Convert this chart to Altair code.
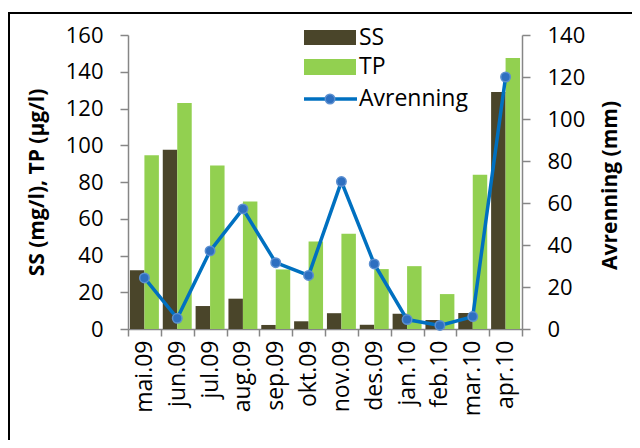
import altair as alt
import pandas as pd

months = ["mai.09", "jun.09", "jul.09", "aug.09", "sep.09", "okt.09",
          "nov.09", "des.09", "jan.10", "feb.10", "mar.10", "apr.10"]
ss = [32, 97.5, 12.5, 16.5, 2.2, 4.2, 8.6, 2.3, 8.3, 4.9, 8.7, 129]
tp = [94.5, 123, 89, 69.4, 32.4, 47.6, 51.8, 32.6, 34.2, 19, 84, 147.5]
avr = [24.3, 5.1, 37.2, 57.2, 31.6, 25.5, 70.2, 31, 4.5, 1.7, 5.9, 120]
series = ["SS", "TP", "Avrenning"]
colors = ["#4a452a", "#92d050", "#0070c0"]
left_ticks = [0, 20, 40, 60, 80, 100, 120, 140, 160]
right_ticks = [0, 20, 40, 60, 80, 100, 120, 140]
left_title = "SS (mg/l), TP (µg/l)"
right_title = "Avrenning (mm)"

FONT = "Open Sans"
AXC = "#868686"

long_df = pd.DataFrame(
    [{"Måned": m, "Serie": "SS", "Verdi": v} for m, v in zip(months, ss)]
    + [{"Måned": m, "Serie": "TP", "Verdi": v} for m, v in zip(months, tp)]
)
line_df = pd.DataFrame({"Måned": months, "Avrenning": avr})

x_axis = alt.Axis(title=None, labelAngle=-90, tickBand="extent", tickSize=7,
                  labelPadding=4, domainColor=AXC, tickColor=AXC,
                  labelFontSize=23, labelColor="black")
x_enc = alt.X("Måned:N", sort=months,
              scale=alt.Scale(paddingInner=0, paddingOuter=0), axis=x_axis)

bars = alt.Chart(long_df).mark_bar().encode(
    x=x_enc,
    xOffset=alt.XOffset("Serie:N", sort=["SS", "TP"],
                        scale=alt.Scale(paddingInner=0, paddingOuter=0.134)),
    y=alt.Y("Verdi:Q", scale=alt.Scale(domain=[0, 160]),
            axis=alt.Axis(orient="left", values=left_ticks, grid=False,
                          title=left_title, tickSize=8, labelPadding=17,
                          labelFontSize=22,
                          titleAngle=270, titleX=-91, titleY=147,
                          titleAlign="center", titleBaseline="middle")),
    color=alt.Color("Serie:N", scale=alt.Scale(domain=series[:2], range=colors[:2]),
                    legend=None),
)

line = alt.Chart(line_df).mark_line(
    color=colors[2], strokeWidth=3.5,
    point=alt.OverlayMarkDef(filled=True, fill="#2e6fc0", stroke="#5b8fd0",
                             strokeWidth=1.5, size=90, opacity=1),
).encode(
    x=x_enc,
    y=alt.Y("Avrenning:Q", scale=alt.Scale(domain=[0, 140]),
            axis=alt.Axis(orient="right", values=right_ticks, grid=False,
                          title=right_title, tickSize=8, labelPadding=17,
                          labelFontSize=22,
                          titleAngle=270, titleX=88, titleY=150,
                          titleAlign="center", titleBaseline="middle")),
)

one = pd.DataFrame({"k": [0]})
leg_ss = alt.Chart(one).mark_rect(color=colors[0]).encode(
    x=alt.value(176), x2=alt.value(228), y=alt.value(-5), y2=alt.value(10))
leg_tp = alt.Chart(one).mark_rect(color=colors[1]).encode(
    x=alt.value(176), x2=alt.value(228), y=alt.value(24), y2=alt.value(40))
leg_line = alt.Chart(one).mark_rule(color=colors[2], strokeWidth=3.5).encode(
    x=alt.value(176), x2=alt.value(229), y=alt.value(64))
leg_pt = alt.Chart(one).mark_point(filled=True, fill="#2e6fc0", stroke="#5b8fd0",
                                   strokeWidth=1.5, size=90, opacity=1).encode(
    x=alt.value(202), y=alt.value(64))
leg_t1 = alt.Chart(one).mark_text(align="left", baseline="middle", fontSize=23,
                                  font=FONT, color="black").encode(
    x=alt.value(231), y=alt.value(3), text=alt.value(series[0]))
leg_t2 = alt.Chart(one).mark_text(align="left", baseline="middle", fontSize=23,
                                  font=FONT, color="black").encode(
    x=alt.value(231), y=alt.value(32), text=alt.value(series[1]))
leg_t3 = alt.Chart(one).mark_text(align="left", baseline="middle", fontSize=23,
                                  font=FONT, color="black").encode(
    x=alt.value(231), y=alt.value(64), text=alt.value(series[2]))

frame_v = alt.Chart(one).mark_rule(color="black", strokeWidth=2).encode(
    x=alt.value(-119), y=alt.value(-22), y2=alt.value(430))
frame_h = alt.Chart(one).mark_rule(color="black", strokeWidth=2).encode(
    x=alt.value(-120), x2=alt.value(540), y=alt.value(-22))

chart = alt.layer(
    bars, line, leg_ss, leg_tp, leg_line, leg_pt, leg_t1, leg_t2, leg_t3,
    frame_v, frame_h
).resolve_scale(y="independent").properties(
    width=394, height=294,
    autosize=alt.AutoSizeParams(type="none"),
    padding={"left": 120, "top": 27, "right": 110, "bottom": 111},
    background="white",
).configure_view(stroke=None).configure_axis(
    labelFont=FONT, titleFont=FONT, labelFontSize=22, titleFontSize=21,
    titleFontWeight="bold", labelColor="black", titleColor="black",
    domainColor=AXC, tickColor=AXC, domainWidth=1.5, tickWidth=1.5,
)

chart.save("out.html", embed_options={"renderer": "svg", "actions": False})
